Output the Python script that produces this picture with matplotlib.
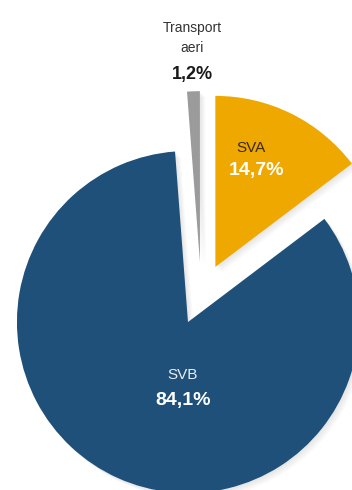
import matplotlib
matplotlib.use("Agg")
import matplotlib.pyplot as plt
import matplotlib.patheffects as pe

# Share of each segment (%)
labels = ["SVA", "Transport\naeri", "SVB"]
shares = [14.7, 1.2, 84.1]
share_text = ["14,7%", "1,2%", "84,1%"]
colors = ["#EFA800", "#9B9B9B", "#1F5079"]

plt.rcParams["font.family"] = ["Liberation Sans", "DejaVu Sans"]

fig = plt.figure(figsize=(3.52, 4.90), dpi=100)
ax = fig.add_axes([0, 0, 1, 1])

wedges, _ = ax.pie(shares, colors=colors, startangle=37.1, counterclock=True,
                   explode=[0.36, 0.36, 0.0], radius=1.0,
                   wedgeprops=dict(linewidth=0))

# nudge the thin slice so it sits right beside the SVA slice
wedges[1].set_center((0.07, 0.35))

# soft drop shadow
shadow = [pe.SimplePatchShadow(offset=(d, -d), shadow_rgbFace="#000000", alpha=0.025)
          for d in (4, 3, 2, 1)]
for w in wedges:
    w.set_path_effects(shadow + [pe.Normal()])

# segment labels
ax.text(0.368, 1.02, labels[0], ha="center", va="center", fontsize=11, color="#3a2a10")
ax.text(0.40, 0.886, share_text[0], ha="center", va="center", fontsize=14,
        fontweight="bold", color="white")

ax.text(0.026, 1.660, labels[1], ha="center", va="center", fontsize=10,
        color="#333333", linespacing=1.6)
ax.text(0.026, 1.450, share_text[1], ha="center", va="center", fontsize=13,
        fontweight="bold", color="#1a1a1a")

ax.text(-0.029, -0.307, labels[2], ha="center", va="center", fontsize=11, color="#e8eef4")
ax.text(-0.029, -0.456, share_text[2], ha="center", va="center", fontsize=14,
        fontweight="bold", color="white")

ax.set_xlim(-1.099, 0.959)
ax.set_ylim(-0.982, 1.883)
ax.set_aspect("auto")
ax.axis("off")

fig.savefig("out.png", dpi=100)
